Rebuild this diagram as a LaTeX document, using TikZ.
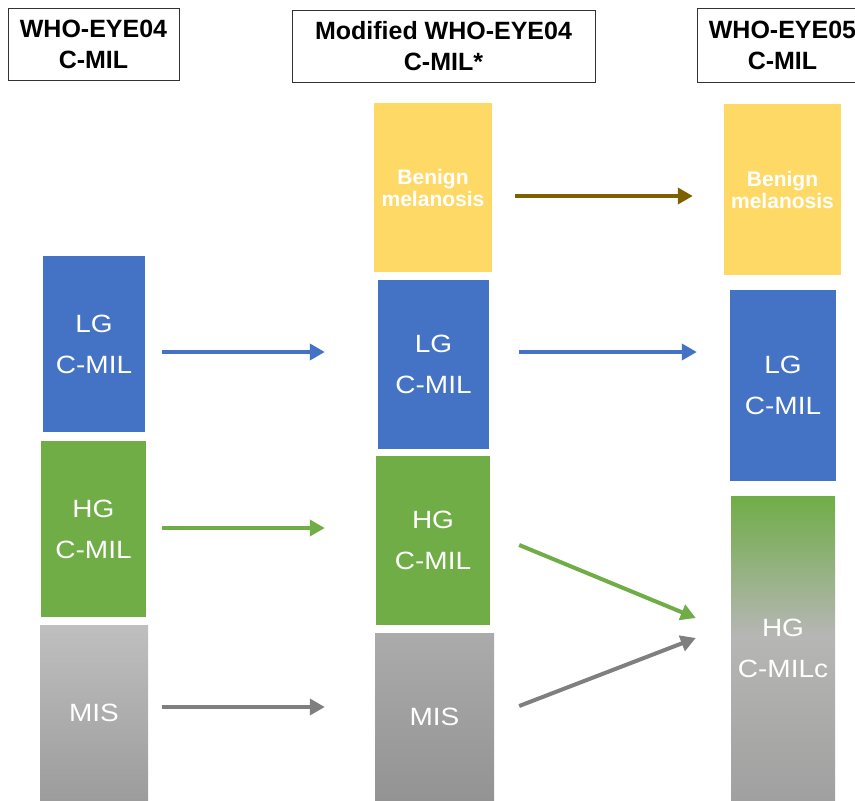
\documentclass[tikz,border=0pt]{standalone}
\usepackage{fontspec}
\setmainfont{Liberation Sans}
\newfontfamily\barfont[FakeStretch=1.12]{Liberation Sans}
\usetikzlibrary{arrows.meta}
\definecolor{cblue}{HTML}{4472C4}
\definecolor{cgreen}{HTML}{70AD47}
\definecolor{cyellow}{HTML}{FFD966}
\definecolor{cbrown}{HTML}{7F6000}
\definecolor{cgray}{HTML}{7F7F7F}
\definecolor{gA}{HTML}{BFBFBF}
\definecolor{gB}{HTML}{9C9C9C}
\definecolor{gC}{HTML}{ABABAB}
\definecolor{gD}{HTML}{939393}
\definecolor{gM}{HTML}{B6B6B5}
\definecolor{gE}{HTML}{A0A0A0}
\pgfdeclareverticalshading{hgshade}{100bp}{color(0bp)=(gE); color(25bp)=(gE); color(52bp)=(gM); color(75bp)=(cgreen); color(100bp)=(cgreen)}
\tikzset{
  bar/.style={rectangle, inner sep=0pt, text=white, align=center,
    font=\barfont\fontsize{25}{41}\selectfont},
  benign/.style={bar, fill=cyellow, font=\fontsize{21}{22}\selectfont\bfseries},
  hdr/.style={rectangle, draw=black!80, line width=1pt, fill=white, inner sep=0pt,
    align=center, font=\fontsize{25}{31}\selectfont\bfseries},
  arr/.style={line width=4pt, -{Triangle[length=15pt,width=16pt]}}
}
\begin{document}
\begin{tikzpicture}[x=1pt,y=-1pt]
\useasboundingbox (0,0) rectangle (855,801);
\begin{scope}
\clip (0,0) rectangle (855,801);
% headers
\node[hdr, minimum width=171, minimum height=72] (h1) at (93.5,44) {WHO-EYE04\\C-MIL};
\node[hdr, minimum width=303, minimum height=72] (h2) at (443.5,46) {Modified WHO-EYE04\\C-MIL*};
\node[hdr, minimum width=171, minimum height=74] (h3) at (782.5,45) {WHO-EYE05\\C-MIL};
% column 1
\node[bar, fill=cblue, minimum width=102, minimum height=176] (lg1) at (94,344) {LG\\C-MIL};
\node[bar, fill=cgreen, minimum width=105, minimum height=176] (hg1) at (93.5,529) {HG\\C-MIL};
\node[bar, top color=gA, bottom color=gB, minimum width=108, minimum height=176] (ms1) at (94,713) {MIS};
% column 2
\node[benign, minimum width=118, minimum height=169] (bn2) at (433,187.5) {Benign\\melanosis};
\node[bar, fill=cblue, minimum width=111, minimum height=169] (lg2) at (433.5,364.5) {LG\\C-MIL};
\node[bar, fill=cgreen, minimum width=114, minimum height=169] (hg2) at (433,540.5) {HG\\C-MIL};
\node[bar, top color=gC, bottom color=gD, minimum width=119, minimum height=168] (ms2) at (434.5,717) {MIS};
% column 3
\node[benign, minimum width=117, minimum height=171] (bn3) at (782.5,189.5) {Benign\\melanosis};
\node[bar, fill=cblue, minimum width=106, minimum height=191] (lg3) at (783,385.5) {LG\\C-MIL};
\node[bar, shading=hgshade, minimum width=104, minimum height=305] (hgc) at (783,648.5) {HG\\C-MILc};
\end{scope}
% arrows
\draw[arr, cbrown] ([xshift=23pt,yshift=-8.5pt]bn2.east) -- ([xshift=-31pt,yshift=-6.5pt]bn3.west);
\draw[arr, cblue] ([xshift=17pt,yshift=-8pt]lg1.east) -- ([xshift=-53pt,yshift=12.5pt]lg2.west);
\draw[arr, cblue] ([xshift=30pt,yshift=12.5pt]lg2.east) -- ([xshift=-33pt,yshift=33.5pt]lg3.west);
\draw[arr, cgreen] ([xshift=16pt,yshift=1pt]hg1.east) -- ([xshift=-51pt,yshift=12.5pt]hg2.west);
\draw[arr, cgreen] ([xshift=29pt,yshift=-4.5pt]hg2.east) -- ([xshift=-35pt,yshift=30.5pt]hgc.west);
\draw[arr, cgray] ([xshift=14pt,yshift=6pt]ms1.east) -- ([xshift=-50pt,yshift=10pt]ms2.west);
\draw[arr, cgray] ([xshift=25pt,yshift=11pt]ms2.east) -- ([xshift=-35pt,yshift=10.5pt]hgc.west);
\end{tikzpicture}
\end{document}
